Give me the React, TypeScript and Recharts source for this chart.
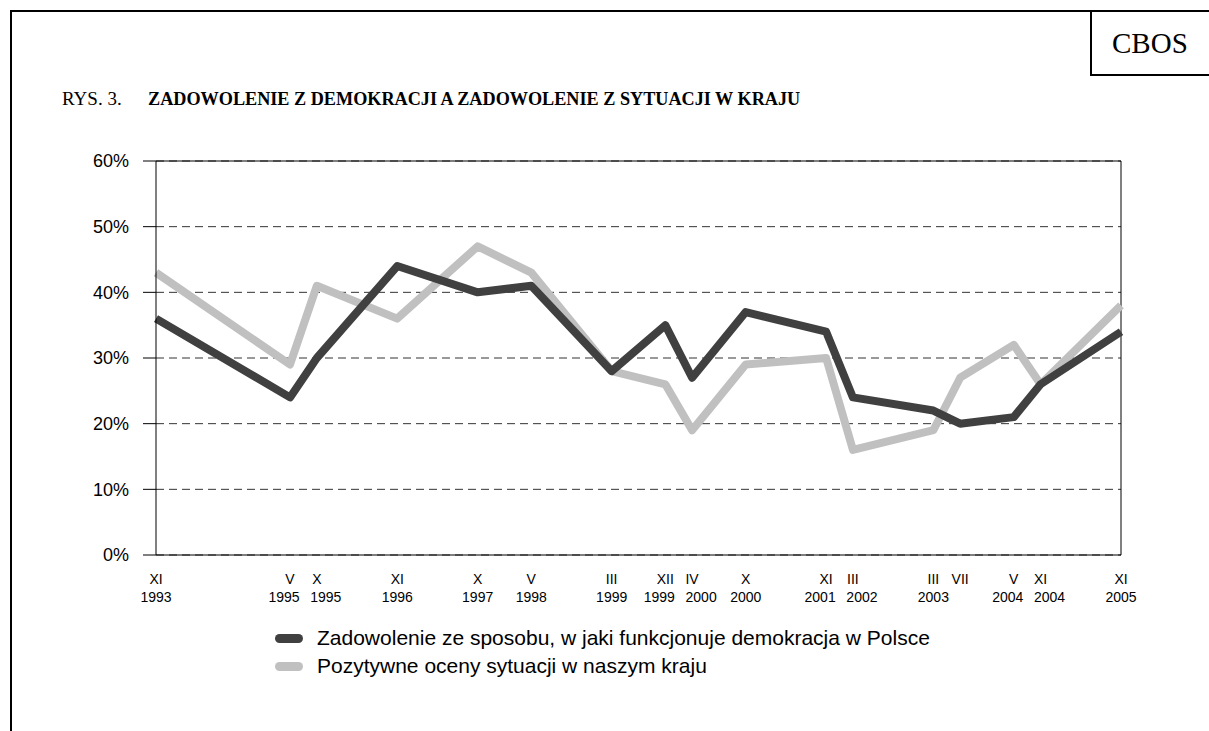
import { CartesianGrid, Line, LineChart, ReferenceLine, XAxis, YAxis } from "recharts";

// survey waves: month (roman), year, slot on the category axis
const months = ["XI", "V", "X", "XI", "X", "V", "III", "XII", "IV", "X", "XI", "III", "III", "VII", "V", "XI", "XI"];
const years = ["1993", "1995", "1995", "1996", "1997", "1998", "1999", "1999", "2000", "2000", "2001", "2002", "2003", "", "2004", "2004", "2005"];
const slots = [0, 5, 6, 9, 12, 14, 17, 19, 20, 22, 25, 26, 29, 30, 32, 33, 36];

// % of respondents
const democracy = [36, 24, 30, 44, 40, 41, 28, 35, 27, 37, 34, 24, 22, 20, 21, 26, 34];
const situation = [43, 29, 41, 36, 47, 43, 28, 26, 19, 29, 30, 16, 19, 27, 32, 26, 38];

const yTicks = [0, 10, 20, 30, 40, 50, 60];

const DARK = "#404040";
const LIGHT = "#c0c0c0";
const SANS = "'Liberation Sans', Arial, sans-serif";
const SERIF = "'Liberation Serif', 'Times New Roman', serif";

const data = slots.map((slot, i) => ({
  slot,
  month: months[i],
  year: years[i],
  democracy: democracy[i],
  situation: situation[i]
}));

function MonthTick({ x, y, payload }: any) {
  const i = slots.indexOf(payload.value);
  if (i < 0) return null;
  // spread year labels apart when two waves sit in neighbouring slots
  let shift = 0;
  if (i < slots.length - 1 && slots[i + 1] - slots[i] === 1 && years[i + 1]) shift = -6;
  if (i > 0 && slots[i] - slots[i - 1] === 1 && years[i]) shift = 9;
  return (
    <g>
      <text x={x} y={y + 29} textAnchor="middle" fontSize={14} fontFamily={SANS} fill="#000">
        {months[i]}
      </text>
      <text x={x + shift} y={y + 47} textAnchor="middle" fontSize={14} fontFamily={SANS} fill="#000">
        {years[i]}
      </text>
    </g>
  );
}

function LegendRow({ color, label, top }: { color: string; label: string; top: number }) {
  return (
    <div style={{ position: "absolute", left: 275, top, display: "flex", alignItems: "center", height: 24 }}>
      <div style={{ width: 28, height: 9, borderRadius: 5, background: color }} />
      <span style={{ marginLeft: 14, fontFamily: SANS, fontSize: 21, color: "#000", whiteSpace: "nowrap" }}>{label}</span>
    </div>
  );
}

export default function App() {
  return (
    <div style={{ position: "absolute", left: 0, top: 0, width: 1209, height: 731, background: "#fff", overflow: "hidden" }}>
      <div style={{ position: "absolute", left: 10, top: 10, width: 1300, height: 800, borderLeft: "2px solid #000", borderTop: "2px solid #000" }} />
      <div
        style={{
          position: "absolute",
          left: 1090,
          top: 10,
          width: 140,
          height: 64,
          borderLeft: "2px solid #000",
          borderBottom: "2px solid #000",
          fontFamily: SERIF,
          fontSize: 29,
          lineHeight: "66px",
          paddingLeft: 20
        }}
      >
        CBOS
      </div>
      <div style={{ position: "absolute", left: 62, top: 88, fontFamily: SERIF, fontSize: 19, color: "#000", whiteSpace: "nowrap" }}>
        RYS. 3.
      </div>
      <div style={{ position: "absolute", left: 148, top: 89, fontFamily: SERIF, fontSize: 18.2, fontWeight: "bold", color: "#000", whiteSpace: "nowrap" }}>
        ZADOWOLENIE Z DEMOKRACJI A ZADOWOLENIE Z SYTUACJI W KRAJU
      </div>

      <div style={{ position: "absolute", left: 0, top: 0 }}>
        <LineChart width={1209} height={731} data={data} margin={{ top: 161, right: 88, bottom: 136, left: 96 }}>
          <CartesianGrid horizontal vertical={false} stroke="#333" strokeDasharray="8 5" />
          <XAxis
            dataKey="slot"
            type="number"
            domain={[0, 36]}
            ticks={slots}
            interval={0}
            height={40}
            tickLine={false}
            tickSize={0}
            tickMargin={0}
            axisLine={{ stroke: "#000" }}
            tick={<MonthTick />}
          />
          <YAxis
            type="number"
            domain={[0, 60]}
            ticks={yTicks}
            width={60}
            tickSize={13}
            tickMargin={14}
            tickFormatter={(v: number) => `${v}%`}
            tick={{ fontSize: 18, fontFamily: SANS, fill: "#000" }}
            tickLine={{ stroke: "#000" }}
            axisLine={{ stroke: "#000" }}
          />
          <ReferenceLine y={60} stroke="#000" />
          <ReferenceLine x={36} stroke="#000" />
          <Line
            dataKey="situation"
            type="linear"
            stroke={LIGHT}
            strokeWidth={8}
            strokeLinejoin="round"
            dot={false}
            activeDot={false}
            isAnimationActive={false}
          />
          <Line
            dataKey="democracy"
            type="linear"
            stroke={DARK}
            strokeWidth={8}
            strokeLinejoin="round"
            dot={false}
            activeDot={false}
            isAnimationActive={false}
          />
        </LineChart>
      </div>

      <LegendRow color={DARK} label="Zadowolenie ze sposobu, w jaki funkcjonuje demokracja w Polsce" top={626} />
      <LegendRow color={LIGHT} label="Pozytywne oceny sytuacji w naszym kraju" top={654} />
    </div>
  );
}
